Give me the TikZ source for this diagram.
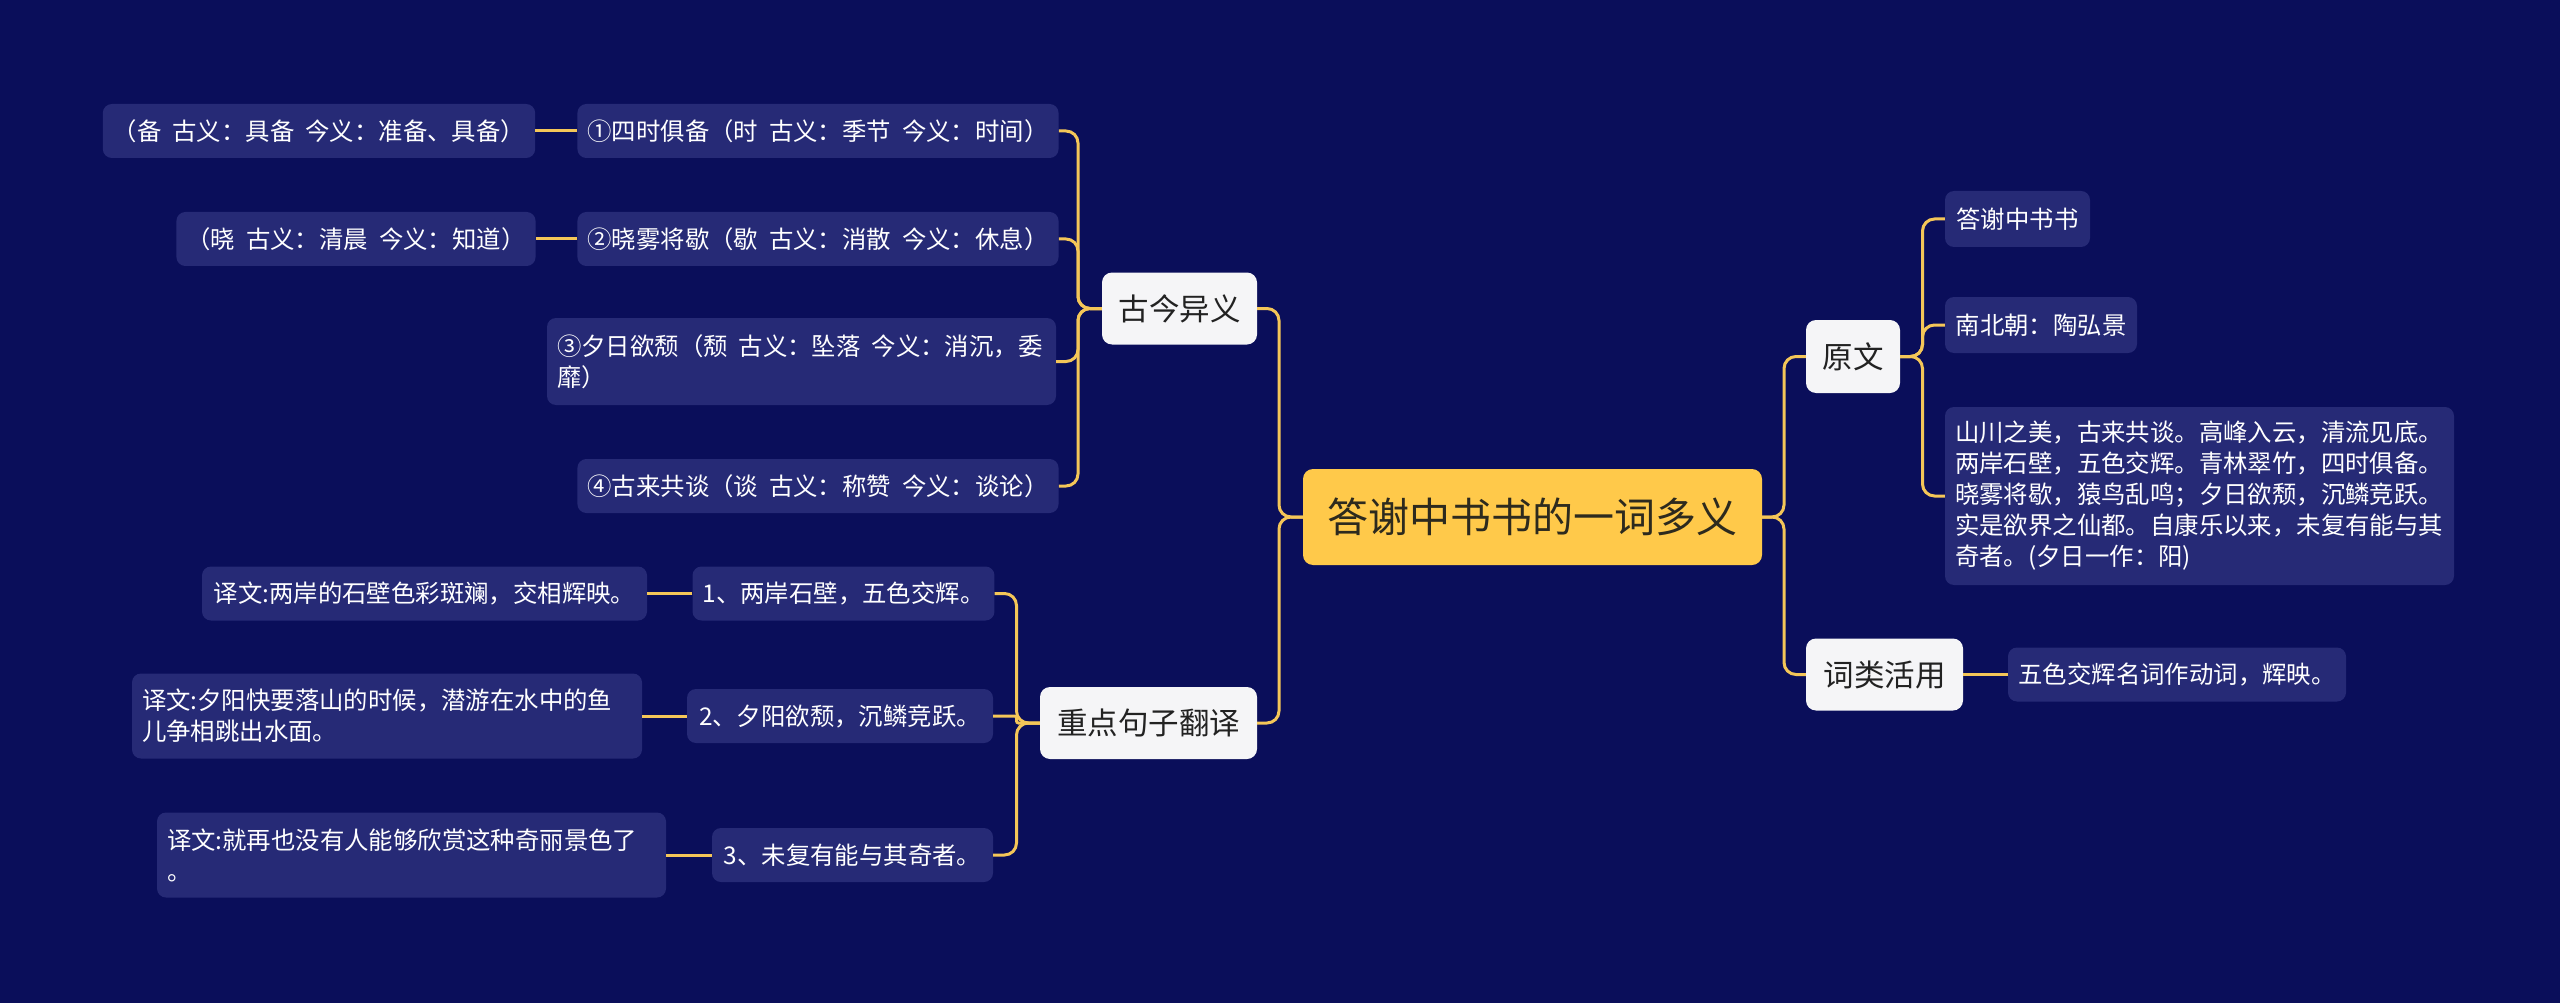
\documentclass[tikz,border=0pt]{standalone}
\usepackage{fontspec}
\newfontfamily\cjk{Noto Sans CJK SC}
\definecolor{bgc}{HTML}{0A0E5A}
\definecolor{leafc}{HTML}{262A76}
\definecolor{linec}{HTML}{F4C658}
\definecolor{rootc}{HTML}{FFC94A}
\definecolor{roottext}{HTML}{2D2A1E}
\definecolor{mainc}{HTML}{F5F5F7}
\definecolor{maintext}{HTML}{222222}
\newcommand{\cjsp}{\hspace{0.45em}}
\begin{document}
\begin{tikzpicture}[x=1pt,y=-1pt,
  leaf/.style={rectangle, rounded corners=9pt, fill=leafc, text=white,
    font=\cjk\fontsize{24.4}{31}\selectfont, inner xsep=10pt, inner ysep=0pt,
    align=left, minimum height=54pt},
  mainbox/.style={rectangle, rounded corners=10pt, fill=mainc, text=maintext,
    font=\cjk\fontsize{30.5}{36}\selectfont, inner sep=0pt, minimum height=72pt},
  rootbox/.style={rectangle, rounded corners=10pt, fill=rootc, text=roottext,
    font=\cjk\fontsize{41}{48}\selectfont, inner sep=0pt},
  conn/.style={draw=linec, line width=3pt, rounded corners=12pt}]
\useasboundingbox (0,0) rectangle (2560,1003);
\fill[bgc] (0,0) rectangle (2560,1003);

% root
\node[rootbox, minimum width=459pt, minimum height=96pt] (root) at (1532.5,517) {答谢中书书的一词多义};

% level 1
\node[mainbox, minimum width=155pt] (gj) at (1179.5,308.5) {古今异义};
\node[mainbox, minimum width=217pt] (zd) at (1148.5,723) {重点句子翻译};
\node[mainbox, minimum width=94pt, minimum height=73pt] (yw) at (1853,356.5) {原文};
\node[mainbox, minimum width=157pt] (cl) at (1884.5,674.5) {词类活用};

% 古今异义 children
\node[leaf, minimum width=476pt] (a1) at (818,131) {①四时俱备（时\cjsp 古义：季节\cjsp 今义：时间）};
\node[leaf, minimum width=476pt] (a2) at (818,239) {②晓雾将歇（歇\cjsp 古义：消散\cjsp 今义：休息）};
\node[leaf, text width=489pt, minimum height=87pt] (a3) at (801.5,361.5) {③夕日欲颓（颓\cjsp 古义：坠落\cjsp 今义：消沉，委\\靡）};
\node[leaf, minimum width=476pt] (a4) at (818,486) {④古来共谈（谈\cjsp 古义：称赞\cjsp 今义：谈论）};
\node[leaf, minimum width=430pt] (b1) at (319,131) {（备\cjsp 古义：具备\cjsp 今义：准备、具备）};
\node[leaf, minimum width=356pt] (b2) at (356,239) {（晓\cjsp 古义：清晨\cjsp 今义：知道）};

% 重点句子翻译 children
\node[leaf, minimum width=299pt] (c1) at (843.5,593.5) {1、两岸石壁，五色交辉。};
\node[leaf, minimum width=306pt] (c2) at (840,716) {2、夕阳欲颓，沉鳞竞跃。};
\node[leaf, minimum width=281pt] (c3) at (852.5,855) {3、未复有能与其奇者。};
\node[leaf, minimum width=445pt] (d1) at (424.5,593.5) {译文:两岸的石壁色彩斑斓，交相辉映。};
\node[leaf, text width=490pt, minimum height=85pt] (d2) at (387,716) {译文:夕阳快要落山的时候，潜游在水中的鱼\\儿争相跳出水面。};
\node[leaf, text width=489pt, minimum height=85pt] (d3) at (411.5,855) {译文:就再也没有人能够欣赏这种奇丽景色了\\。};

% 原文 children
\node[leaf, minimum width=145pt, minimum height=56pt] (r1) at (2017.5,219) {答谢中书书};
\node[leaf, minimum width=192pt, minimum height=56pt] (r2) at (2041,325) {南北朝：陶弘景};
\node[leaf, text width=489pt, minimum height=178pt] (r3) at (2199.5,496) {山川之美，古来共谈。高峰入云，清流见底。\\两岸石壁，五色交辉。青林翠竹，四时俱备。\\晓雾将歇，猿鸟乱鸣；夕日欲颓，沉鳞竞跃。\\实是欲界之仙都。自康乐以来，未复有能与其\\奇者。(夕日一作：阳)};

% 词类活用 child
\node[leaf, minimum width=338pt] (s1) at (2177,674.5) {五色交辉名词作动词，辉映。};

% connectors root
\draw[conn] (root.west) -- (1279,517) |- (gj.east);
\draw[conn] (root.west) -- (1279,517) |- (zd.east);
\draw[conn] (root.east) -- (1784,517) |- (yw.west);
\draw[conn] (root.east) -- (1784,517) |- (cl.west);

% 古今异义
\draw[conn] (gj.west) -- (1078,308.5) |- (a1.east);
\draw[conn] (gj.west) -- (1078,308.5) |- (a2.east);
\draw[conn] (gj.west) -- (1078,308.5) |- (a3.east);
\draw[conn] (gj.west) -- (1078,308.5) |- (a4.east);
\draw[conn] (a1.west) -- (b1.east);
\draw[conn] (a2.west) -- (b2.east);

% 重点句子翻译
\draw[conn] (zd.west) -- (1016.5,723) |- (c1.east);
\draw[conn, rounded corners=2pt] (zd.west) -- (1016.5,723) |- (c2.east);
\draw[conn] (zd.west) -- (1016.5,723) |- (c3.east);
\draw[conn] (c1.west) -- (d1.east);
\draw[conn] (c2.west) -- (d2.east);
\draw[conn] (c3.west) -- (d3.east);

% 原文
\draw[conn] (yw.east) -- (1922.5,356.5) |- (r1.west);
\draw[conn] (yw.east) -- (1922.5,356.5) |- (r2.west);
\draw[conn] (yw.east) -- (1922.5,356.5) |- (r3.west);

% 词类活用
\draw[conn] (cl.east) -- (s1.west);
\end{tikzpicture}
\end{document}
